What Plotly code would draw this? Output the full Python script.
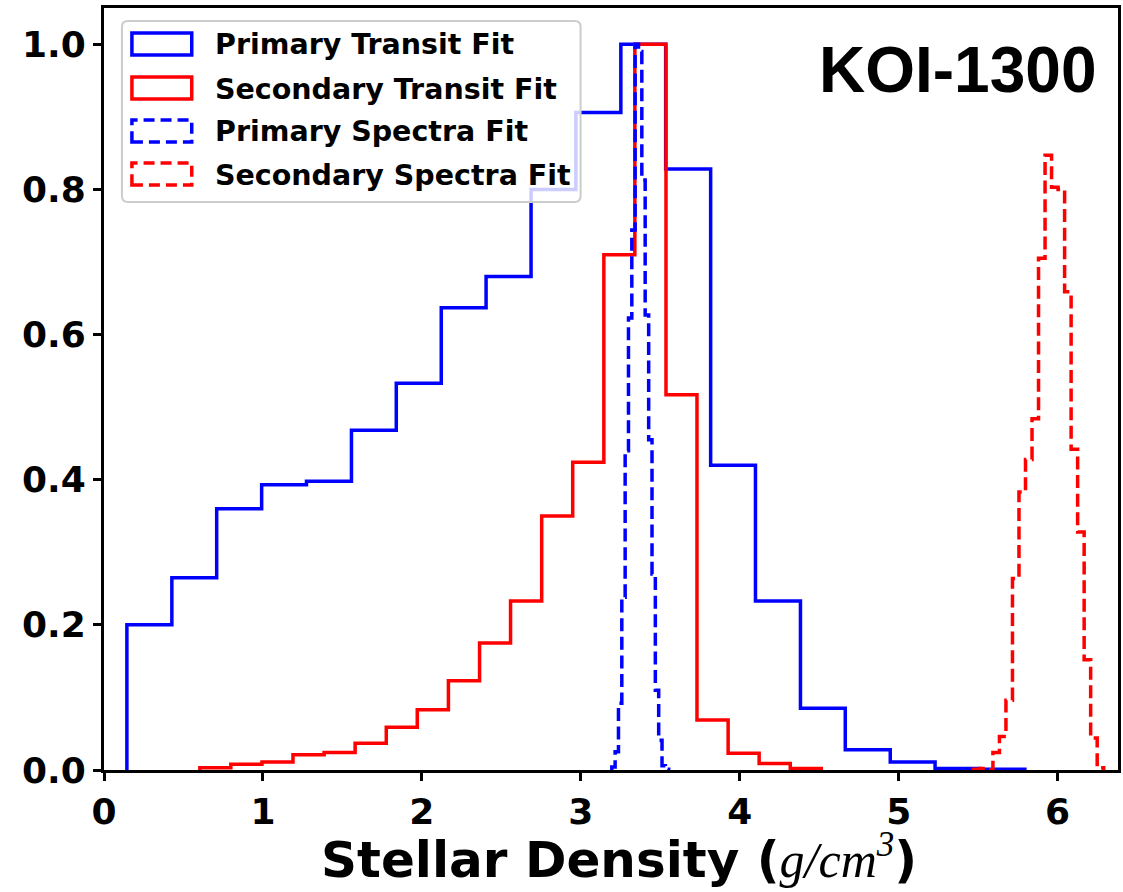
import plotly.graph_objects as go

# ---------------- data ----------------
pt_edges = [0.144, 0.427, 0.709, 0.992, 1.274, 1.557, 1.839, 2.122, 2.404, 2.687, 2.969,
            3.252, 3.534, 3.817, 4.099, 4.382, 4.664, 4.947, 5.229, 5.512, 5.794]
pt_heights = [0.200, 0.265, 0.360, 0.393, 0.398, 0.468, 0.533, 0.637, 0.680, 0.800,
              0.906, 1.000, 0.828, 0.420, 0.233, 0.085, 0.028, 0.011, 0.002, 0.001]

st_edges = [0.603, 0.798, 0.994, 1.189, 1.385, 1.580, 1.776, 1.971, 2.167, 2.363, 2.558,
            2.754, 2.949, 3.145, 3.340, 3.536, 3.731, 3.927, 4.122, 4.318, 4.513]
st_heights = [0.003, 0.008, 0.011, 0.021, 0.024, 0.037, 0.059, 0.083, 0.123, 0.175,
              0.233, 0.350, 0.424, 0.710, 1.000, 0.517, 0.069, 0.023, 0.009, 0.002]

ps_edges = [3.195, 3.216, 3.237, 3.258, 3.279, 3.300, 3.321, 3.342, 3.363, 3.384,
            3.405, 3.427, 3.448, 3.469, 3.490, 3.511, 3.532, 3.553]
ps_heights = [0.004, 0.025, 0.092, 0.238, 0.440, 0.623, 0.744, 1.000, 0.990, 0.813,
              0.627, 0.455, 0.270, 0.110, 0.041, 0.006, 0.001]

ss_edges = [5.470, 5.511, 5.552, 5.593, 5.634, 5.675, 5.716, 5.757, 5.798, 5.839, 5.880,
            5.921, 5.962, 6.003, 6.044, 6.085, 6.126, 6.167, 6.208, 6.249, 6.290]
ss_heights = [0.001, 0.002, 0.000, 0.024, 0.046, 0.096, 0.264, 0.383, 0.428, 0.484,
              0.705, 0.847, 0.803, 0.800, 0.659, 0.442, 0.328, 0.152, 0.044, 0.003]

series_names = ["Primary Transit Fit", "Secondary Transit Fit",
                "Primary Spectra Fit", "Secondary Spectra Fit"]
x_ticks = [0, 1, 2, 3, 4, 5, 6]
y_ticks = [0.0, 0.2, 0.4, 0.6, 0.8, 1.0]
y_ticklabels = ["0.0", "0.2", "0.4", "0.6", "0.8", "1.0"]
title_text = "KOI-1300"

# ---------------- styling / layout ----------------
W, H = 1123, 892
ML, MR, MT, MB = 104, 2, 8, 122
PW, PH = W - ML - MR, H - MT - MB
BLUE, RED = "#0000ff", "#ff0000"
DASH = "13px,5.6px"
LW = 3.5


def px_x(px):
    return (px - ML) / PW


def px_y(py):
    return (H - MB - py) / PH


def step_xy(edges, heights):
    xs = [edges[0]] + list(edges) + [edges[-1]]
    ys = [0] + list(heights) + [heights[-1], 0]
    return xs, ys


series = [
    (pt_edges, pt_heights, BLUE, "solid"),
    (st_edges, st_heights, RED, "solid"),
    (ps_edges, ps_heights, BLUE, DASH),
    (ss_edges, ss_heights, RED, DASH),
]

fig = go.Figure()
for name, (e, h, c, d) in zip(series_names, series):
    xs, ys = step_xy(e, h)
    fig.add_trace(go.Scatter(x=xs, y=ys, mode="lines", name=name,
                             line=dict(color=c, width=LW, dash=d, shape="hv"),
                             showlegend=False, hoverinfo="skip"))

tickfont = dict(family="DejaVu Sans", size=36, color="black", weight="bold")
axis_common = dict(showline=True, linecolor="black", linewidth=3, mirror=True,
                   ticks="outside", ticklen=8, tickwidth=3, tickcolor="black",
                   showgrid=False, zeroline=False, tickfont=tickfont)

fig.update_layout(
    width=W, height=H,
    margin=dict(l=ML, r=MR, t=MT, b=MB, pad=0),
    plot_bgcolor="white", paper_bgcolor="white",
    xaxis=dict(range=[0, 6.38], tickvals=x_ticks, **axis_common),
    yaxis=dict(range=[0, 1.05], tickvals=y_ticks, ticktext=y_ticklabels, **axis_common),
)

shapes = []
annotations = []

# legend frame (rounded)
x0, x1 = px_x(122), px_x(582)
y0, y1 = px_y(202), px_y(21)
r = 6
rx, ry = r / PW, r / PH
path = (f"M {x0+rx},{y0} L {x1-rx},{y0} Q {x1},{y0} {x1},{y0+ry} "
        f"L {x1},{y1-ry} Q {x1},{y1} {x1-rx},{y1} L {x0+rx},{y1} "
        f"Q {x0},{y1} {x0},{y1-ry} L {x0},{y0+ry} Q {x0},{y0} {x0+rx},{y0} Z")
shapes.append(dict(type="path", xref="paper", yref="paper", path=path,
                   fillcolor="rgba(255,255,255,0.8)",
                   line=dict(color="#cccccc", width=2), layer="above"))

centers = [44, 88, 131, 174]
for (name, (e, h, c, d)), cy in zip(zip(series_names, series), centers):
    shapes.append(dict(type="rect", xref="paper", yref="paper",
                       x0=px_x(132), x1=px_x(192), y0=px_y(cy + 11), y1=px_y(cy - 11),
                       line=dict(color=c, width=3.5, dash=("solid" if d == "solid" else "11px,6px")),
                       fillcolor="rgba(0,0,0,0)", layer="above"))
    annotations.append(dict(xref="paper", yref="paper", x=px_x(213), y=px_y(cy + 1),
                            xanchor="left", yanchor="middle", showarrow=False,
                            text=name,
                            font=dict(family="DejaVu Sans", size=28.5, color="black",
                                      weight="bold")))

# title
annotations.append(dict(xref="paper", yref="paper", x=px_x(1101), y=px_y(70),
                        xanchor="right", yanchor="middle", showarrow=False,
                        text=title_text,
                        font=dict(family="Liberation Sans", size=64, color="black",
                                  weight="bold")))

# x-axis title
annotations.append(dict(xref="paper", yref="paper", x=px_x(621), y=px_y(857),
                        xanchor="center", yanchor="middle", showarrow=False,
                        text=("<b>Stellar Density (</b>"
                              "<span style='font-family:Liberation Serif'><i>g/cm<sup>3</sup></i></span>"
                              "<b>)</b>"),
                        font=dict(family="DejaVu Sans", size=50, color="black")))

fig.update_layout(shapes=shapes, annotations=annotations)

fig.write_html("out.html")
